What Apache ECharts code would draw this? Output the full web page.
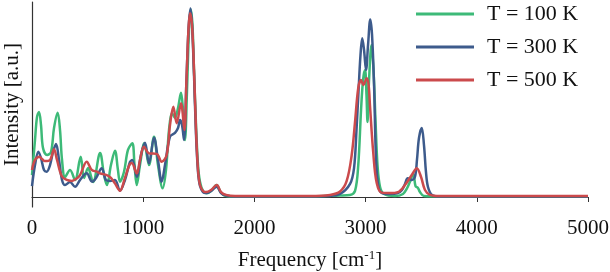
<!DOCTYPE html>
<html>
<head>
<meta charset="utf-8">
<script src="https://cdn.jsdelivr.net/npm/echarts@6/dist/echarts.min.js"></script>
<style>
html,body{margin:0;padding:0;background:#fff;}
#chart{width:610px;height:272px;}
</style>
</head>
<body>
<div id="chart"></div>
<script>
// Series names
const seriesNames = ['T = 100 K', 'T = 300 K', 'T = 500 K'];

// T = 100 K (green)
const freq100 = [0,27,45,63,81,99,135,171,198,231,252,270,297,342,387,438,468,504,549,612,648,674,710,746,773,791,827,863,902,922,942,971,1010,1052,1097,1133,1175,1205,1232,1259,1286,1313,1340,1358,1376,1394,1412,1427,1443,1457,1475,1493,1511,1538,1571,1610,1661,1691,1727,1781,2100,2500,2770,2860,2905,2934,2959,2977,2995,3008,3017,3031,3053,3071,3089,3107,3130,3166,3264,3336,3372,3399,3429,3449,3471,3489,3525,3669,5000];
const int100 = [0.116,0.302,0.423,0.450,0.381,0.259,0.222,0.238,0.365,0.446,0.354,0.196,0.106,0.143,0.090,0.213,0.101,0.153,0.079,0.233,0.116,0.063,0.169,0.245,0.143,0.081,0.132,0.249,0.284,0.169,0.063,0.169,0.284,0.169,0.319,0.169,0.046,0.143,0.354,0.444,0.418,0.471,0.552,0.460,0.302,0.566,0.884,0.992,0.910,0.672,0.381,0.169,0.079,0.032,0.020,0.032,0.063,0.032,0.008,0.003,0.003,0.003,0.008,0.011,0.032,0.169,0.460,0.619,0.672,0.540,0.397,0.619,0.804,0.672,0.407,0.169,0.053,0.016,0.005,0.016,0.046,0.081,0.122,0.058,0.048,0.026,0.005,0.003,0.003];

// T = 300 K (blue)
const freq300 = [0,27,57,81,108,132,162,189,216,243,270,297,342,387,432,492,540,576,627,665,701,746,791,836,881,902,942,980,1016,1052,1097,1133,1166,1196,1241,1286,1313,1331,1349,1367,1389,1407,1425,1439,1457,1475,1493,1511,1538,1565,1610,1661,1700,1745,1826,2100,2500,2650,2770,2860,2896,2918,2936,2954,2970,2986,3004,3022,3042,3058,3076,3094,3116,3148,3220,3291,3327,3354,3379,3415,3444,3462,3480,3505,3525,3543,3561,3597,3669,5000];
const int300 = [0.058,0.169,0.240,0.206,0.143,0.134,0.169,0.238,0.280,0.196,0.090,0.063,0.079,0.054,0.090,0.125,0.081,0.101,0.152,0.090,0.085,0.090,0.033,0.090,0.185,0.196,0.107,0.222,0.287,0.178,0.314,0.196,0.081,0.169,0.319,0.339,0.365,0.407,0.381,0.302,0.619,0.884,0.997,0.910,0.646,0.328,0.132,0.058,0.026,0.021,0.032,0.054,0.021,0.008,0.003,0.003,0.003,0.005,0.016,0.069,0.153,0.354,0.556,0.751,0.840,0.778,0.672,0.804,0.940,0.857,0.593,0.196,0.053,0.021,0.016,0.021,0.037,0.069,0.099,0.090,0.107,0.196,0.312,0.365,0.275,0.132,0.053,0.011,0.003,0.003];

// T = 500 K (red)
const freq500 = [0,27,66,90,117,162,198,225,267,312,357,396,432,492,537,582,612,672,710,746,791,836,872,897,942,971,1007,1052,1121,1166,1211,1241,1271,1301,1340,1370,1389,1407,1421,1439,1457,1475,1493,1511,1538,1565,1610,1661,1700,1745,1826,2100,2500,2680,2770,2830,2875,2905,2934,2959,2980,3010,3027,3040,3069,3100,3145,3220,3291,3354,3415,3460,3498,3534,3579,3669,5000];
const int500 = [0.143,0.196,0.213,0.201,0.190,0.196,0.252,0.196,0.111,0.090,0.085,0.095,0.116,0.187,0.143,0.134,0.125,0.116,0.101,0.072,0.033,0.101,0.164,0.180,0.125,0.196,0.266,0.231,0.228,0.187,0.222,0.381,0.478,0.390,0.496,0.354,0.619,0.884,0.972,0.910,0.672,0.354,0.143,0.063,0.032,0.026,0.037,0.063,0.026,0.011,0.005,0.005,0.005,0.011,0.029,0.085,0.222,0.397,0.577,0.619,0.593,0.628,0.593,0.478,0.233,0.074,0.023,0.021,0.026,0.063,0.116,0.152,0.107,0.037,0.011,0.005,0.005];

const colors = ['#3dba78', '#3d5b8c', '#cb4a4c'];
const FONT = 'Liberation Serif';

function zip(xs, ys) { return xs.map((x, i) => [x, ys[i]]); }

const chart = echarts.init(document.getElementById('chart'), null, {renderer: 'canvas'});
const mk = (name, xs, ys, c) => ({
  name: name, type: 'line', data: zip(xs, ys), smooth: 0.35, symbol: 'none',
  lineStyle: {width: 2.5, color: c}, itemStyle: {color: c}
});
chart.setOption({
  animation: false,
  backgroundColor: '#fff',
  textStyle: {fontFamily: FONT},
  grid: {left: 32, right: 22, top: 2, bottom: 65, containLabel: false, outerBoundsMode: 'none'},
  legend: {
    orient: 'vertical', left: 411, top: -3,
    icon: 'rect', itemWidth: 58, itemHeight: 3, itemGap: 9,
    textStyle: {fontFamily: FONT, fontSize: 22, color: '#111', lineHeight: 24, padding: [0, 0, 0, 8]},
    data: seriesNames
  },
  xAxis: {
    type: 'value', min: 0, max: 5000, interval: 1000,
    name: 'Frequency [cm{sup|-1}]', nameLocation: 'middle', nameGap: 42,
    nameTextStyle: {fontFamily: FONT, fontSize: 21, color: '#111',
      rich: {sup: {fontFamily: FONT, fontSize: 13, verticalAlign: 'top', padding: [0, 0, 10, 0], color: '#111'}}},
    axisLine: {lineStyle: {color: '#333', width: 1.2}},
    axisTick: {show: true, length: 5, lineStyle: {color: '#333'}},
    axisLabel: {fontFamily: FONT, fontSize: 21, color: '#111', margin: 11, formatter: v => String(v)},
    splitLine: {show: false}
  },
  yAxis: {
    type: 'value', min: -0.053, max: 1.032,
    name: 'Intensity [a.u.]', nameLocation: 'middle', nameGap: 9,
    nameTextStyle: {fontFamily: FONT, fontSize: 21, color: '#111'},
    axisLine: {show: true, lineStyle: {color: '#333', width: 1.2}},
    axisTick: {show: false}, axisLabel: {show: false}, splitLine: {show: false}
  },
  series: [
    mk(seriesNames[0], freq100, int100, colors[0]),
    mk(seriesNames[1], freq300, int300, colors[1]),
    mk(seriesNames[2], freq500, int500, colors[2])
  ]
});
</script>
</body>
</html>
